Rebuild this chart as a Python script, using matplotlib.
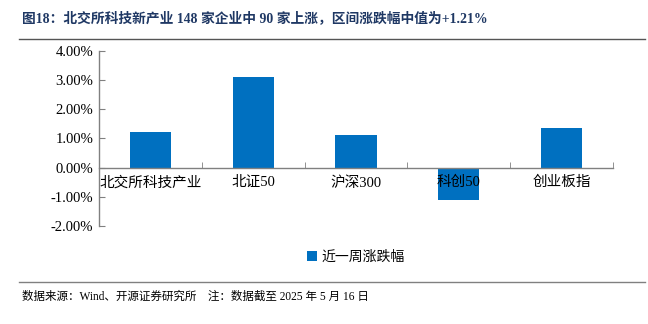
import matplotlib.pyplot as plt
from matplotlib.lines import Line2D
from matplotlib.ticker import FixedLocator, FuncFormatter

plt.rcParams['font.family'] = ['Liberation Serif', 'Noto Sans CJK SC']

categories = ['北交所科技产业', '北证50', '沪深300', '科创50', '创业板指']
values = [1.21, 3.12, 1.11, -1.12, 1.37]
series_name = '近一周涨跌幅'
title = '图18：北交所科技新产业 148 家企业中 90 家上涨，区间涨跌幅中值为+1.21%'
source = '数据来源：Wind、开源证券研究所　注：数据截至 2025 年 5 月 16 日'

fig = plt.figure(figsize=(6.48, 3.24), dpi=100)
ax = fig.add_axes([0.1528, 0.3025, 0.7932, 0.5401])

x = list(range(len(categories)))
ax.bar(x, values, width=0.4, color='#0070C0', label=series_name, zorder=1)
ax.set_axisbelow(False)  # tick labels drawn over bars (科创50)

ax.set_xlim(-0.5, len(categories) - 0.5)
ax.set_ylim(-2, 4)
ax.set_yticks([-2, -1, 0, 1, 2, 3, 4])
ax.yaxis.set_major_formatter(FuncFormatter(lambda v, p: '%.2f%%' % v))

ax.spines['top'].set_visible(False)
ax.spines['right'].set_visible(False)
ax.spines['bottom'].set_position(('data', 0))
for s in ('left', 'bottom'):
    ax.spines[s].set_color('#808080')
    ax.spines[s].set_linewidth(1.0)

ax.set_xticks(x)
ax.set_xticklabels(categories)
ax.xaxis.set_minor_locator(FixedLocator([i - 0.5 for i in range(len(categories) + 1)]))
ax.tick_params(axis='x', which='major', length=0, pad=6, labelsize=10.5)
ax.tick_params(axis='x', which='minor', direction='in', length=4, color='#808080')
ax.tick_params(axis='y', direction='in', length=4, color='#808080', labelsize=10.5, pad=4)

ax.legend(loc='upper center', bbox_to_anchor=(0.5, -0.07), frameon=False,
          fontsize=10, handlelength=0.7, handleheight=0.7, handletextpad=0.3)

fig.text(0.034, 0.945, title, fontsize=9.9, fontweight='bold', color='#1F3864', va='center')
fig.add_artist(Line2D([0.03, 0.995], [0.88, 0.88], color='#555555', lw=1.0))
fig.add_artist(Line2D([0.03, 0.995], [0.13, 0.13], color='#808080', lw=1.0))
fig.text(0.034, 0.083, source, fontsize=8.3, color='black', va='center')

fig.savefig('out.png', dpi=100)
